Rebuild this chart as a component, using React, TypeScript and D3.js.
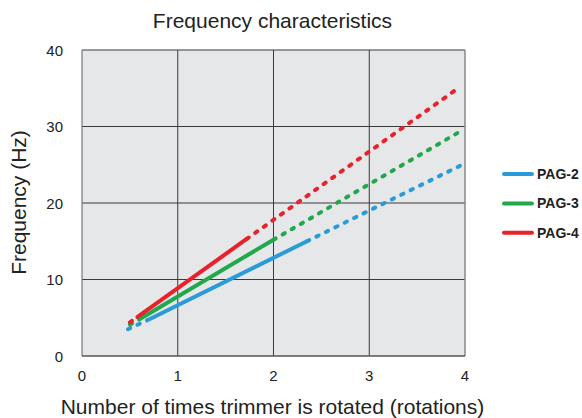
import React from "react";
import * as d3 from "d3";

const xTicks = [0, 1, 2, 3, 4];
const yTicks = [0, 10, 20, 30, 40];
const seriesNames = ["PAG-2", "PAG-3", "PAG-4"];
const seriesColors = ["#2b9bd8", "#21a84b", "#e8222b"];
// points: [dashed start, solid start, solid end, dashed end]
const pag2 = [[0.48, 3.5], [0.72, 4.9], [2.35, 15.0], [3.97, 25.0]];
const pag3 = [[0.5, 4.1], [0.6, 4.8], [2.0, 15.2], [3.97, 29.5]];
const pag4 = [[0.5, 4.4], [0.58, 5.1], [1.72, 15.3], [3.95, 35.2]];
const seriesPoints = [pag2, pag3, pag4];

const W = 582, H = 418;
const left = 82, right = 465, top = 50, bottom = 356;

export default function App() {
  const x = d3.scaleLinear().domain([0, 4]).range([left, right]);
  const y = d3.scaleLinear().domain([0, 40]).range([bottom, top]);
  const line = d3.line<number[]>().x(d => x(d[0])).y(d => y(d[1]));
  const font = "'Liberation Sans', Arial, sans-serif";
  return (
    <svg width={W} height={H} style={{ position: "absolute", left: 0, top: 0 }} fontFamily={font}>
      <rect x={left} y={top} width={right - left} height={bottom - top} fill="#e6e7e9" />
      {xTicks.slice(1, -1).map(t => (
        <line key={"gx" + t} x1={x(t)} x2={x(t)} y1={top} y2={bottom} stroke="#3a3a3a" strokeWidth={1} />
      ))}
      {yTicks.slice(1, -1).map(t => (
        <line key={"gy" + t} x1={left} x2={right} y1={y(t)} y2={y(t)} stroke="#3a3a3a" strokeWidth={1} />
      ))}
      <line x1={left} x2={right} y1={top} y2={top} stroke="#3a3a3a" strokeWidth={1} />
      <line x1={left} x2={left} y1={top} y2={bottom} stroke="#777" strokeWidth={1.2} />
      <line x1={right} x2={right} y1={top} y2={bottom} stroke="#888" strokeWidth={1.5} />
      <line x1={left} x2={right} y1={bottom} y2={bottom} stroke="#555" strokeWidth={1.5} />
      {seriesPoints.map((pts, i) => (
        <g key={"s" + i} stroke={seriesColors[i]} strokeWidth={4} fill="none" strokeLinecap="round">
          <path d={line([pts[0], pts[1]]) || ""} strokeDasharray="2.5 8" />
          <path d={line([pts[1], pts[2]]) || ""} />
          <path d={line([pts[2], pts[3]]) || ""} strokeDasharray="2.5 8" />
        </g>
      ))}
      {xTicks.map(t => (
        <text key={"tx" + t} x={x(t)} y={381} fontSize={15} textAnchor="middle" fill="#222">{t}</text>
      ))}
      {yTicks.map(t => (
        <text key={"ty" + t} x={63} y={y(t) + 5.5} fontSize={15} textAnchor="end" fill="#222">{t}</text>
      ))}
      <text x={272.5} y={28} fontSize={21} textAnchor="middle" fill="#222">Frequency characteristics</text>
      <text x={272.5} y={414} fontSize={21} textAnchor="middle" fill="#222">Number of times trimmer is rotated (rotations)</text>
      <text transform={`translate(25.5,${202.5}) rotate(-90)`} fontSize={21} textAnchor="middle" fill="#222">Frequency (Hz)</text>
      {seriesNames.map((n, i) => (
        <g key={"lg" + i}>
          <line x1={504} x2={532} y1={174 + i * 29.4} y2={174 + i * 29.4} stroke={seriesColors[i]} strokeWidth={4} strokeLinecap="round" />
          <text x={537} y={174 + i * 29.4 + 5} fontSize={14} fontWeight="bold" fill="#222">{n}</text>
        </g>
      ))}
    </svg>
  );
}
